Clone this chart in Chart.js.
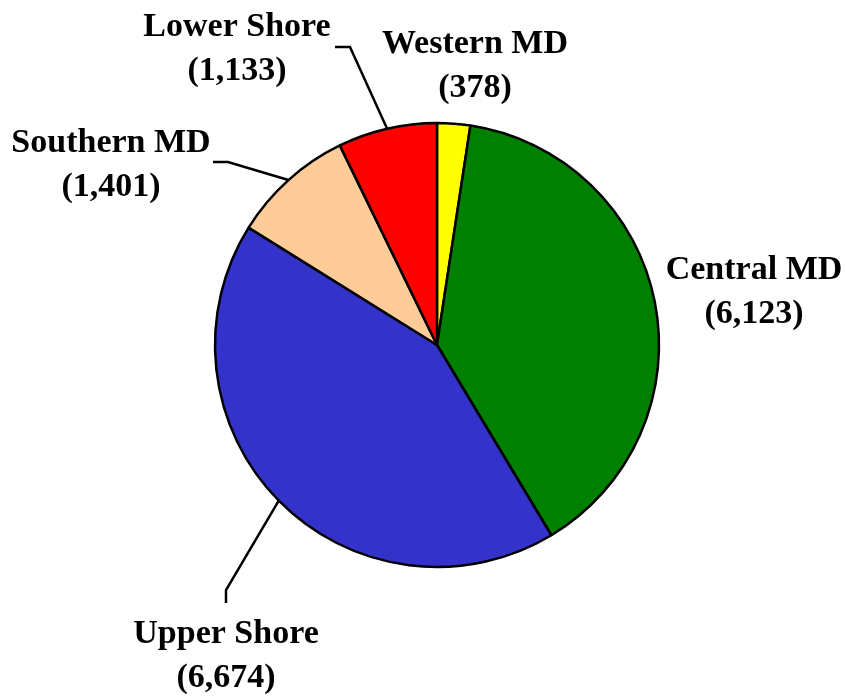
<!DOCTYPE html>
<html>
<head>
<meta charset="utf-8">
<script src="https://cdn.jsdelivr.net/npm/chart.js@4"></script>
<style>
  html, body { margin: 0; padding: 0; background: #fff; }
  #wrap { width: 845px; height: 696px; }
</style>
</head>
<body>
<div id="wrap"><canvas id="regionPie"></canvas></div>
<script>
// regions, clockwise from 12 o'clock
const regions = ['Western MD', 'Central MD', 'Upper Shore', 'Southern MD', 'Lower Shore'];
const counts = [378, 6123, 6674, 1401, 1133];
const sliceColors = ['#FFFF00', '#008000', '#3333CC', '#FFCC99', '#FF0000'];

// where each label sits (center x, first baseline) and its leader elbow/end, if any
const labelLayout = [
    { x: 475, y: 53, leader: null },
    { x: 754, y: 279, leader: null },
    { x: 226, y: 643, leader: [[226, 590], [226, 603]] },
    { x: 111, y: 152, leader: [[228, 162], [213, 162]] },
    { x: 237, y: 36, leader: [[350, 47], [335, 47]] }
];

const labelPlugin = {
    id: 'regionLabels',
    afterDraw(chart) {
        const ctx = chart.ctx;
        const arcs = chart.getDatasetMeta(0).data;
        ctx.save();
        ctx.strokeStyle = '#000';
        ctx.lineWidth = 2.5;
        ctx.fillStyle = '#000';
        ctx.font = 'bold 34px "Liberation Serif", "Times New Roman", serif';
        ctx.textAlign = 'center';
        ctx.textBaseline = 'alphabetic';
        arcs.forEach((arc, i) => {
            const p = arc.getProps(['x', 'y', 'startAngle', 'endAngle', 'outerRadius'], true);
            const mid = (p.startAngle + p.endAngle) / 2;
            const lay = labelLayout[i];
            if (lay.leader) {
                ctx.beginPath();
                ctx.moveTo(p.x + Math.cos(mid) * p.outerRadius, p.y + Math.sin(mid) * p.outerRadius);
                lay.leader.forEach(pt => ctx.lineTo(pt[0], pt[1]));
                ctx.stroke();
            }
            ctx.fillText(regions[i], lay.x, lay.y);
            ctx.fillText('(' + counts[i].toLocaleString('en-US') + ')', lay.x, lay.y + 44);
        });
        ctx.restore();
    }
};

new Chart(document.getElementById('regionPie'), {
    type: 'pie',
    data: {
        labels: regions,
        datasets: [{
            data: counts,
            backgroundColor: sliceColors,
            borderColor: '#000',
            borderWidth: 2.5
        }]
    },
    options: {
        responsive: true,
        maintainAspectRatio: false,
        animation: false,
        radius: 222,
        layout: { padding: { left: 215, right: 186, top: 123, bottom: 129 } },
        plugins: {
            legend: { display: false },
            tooltip: { enabled: false }
        }
    },
    plugins: [labelPlugin]
});
</script>
</body>
</html>
